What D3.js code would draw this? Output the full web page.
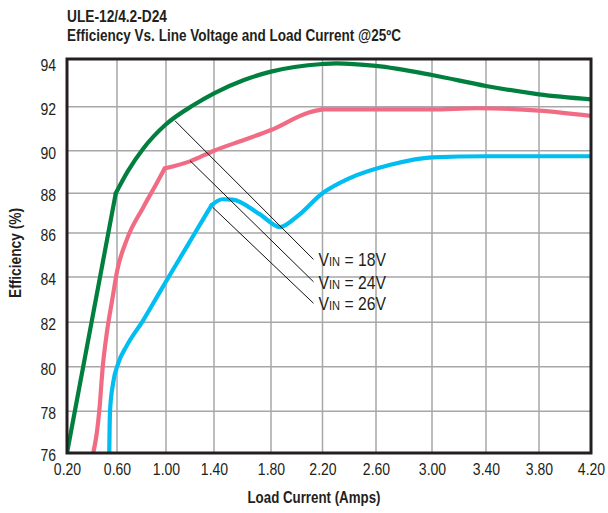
<!DOCTYPE html>
<html>
<head>
<meta charset="utf-8">
<script src="https://cdn.jsdelivr.net/npm/d3@7"></script>
<style>
  html, body { margin: 0; padding: 0; background: #fff; }
  svg { display: block; }
  .lbl { font-family: "Liberation Sans", Arial, Helvetica, sans-serif; fill: #231f20; }
</style>
</head>
<body>
<div id="chart"></div>
<script>
// ─── DATA ───
const TITLE_1 = 'ULE-12/4.2-D24';
const TITLE_2 = 'Efficiency Vs. Line Voltage and Load Current @25ºC';
const X_TITLE = 'Load Current (Amps)';
const Y_TITLE = 'Efficiency (%)';

const X_TICKS = [0.2, 0.6, 1.0, 1.4, 1.8, 2.2, 2.6, 3.0, 3.4, 3.8, 4.2];
const Y_TICKS = [94, 92, 90, 88, 86, 84, 82, 80, 78, 76];

// Vin = 18V
const vin18 = [[0.20, 76.0], [0.59, 88.0], [0.69, 89.05], [0.815, 90.1], [1.00, 91.2], [1.23, 92.07],
  [1.40, 92.56], [1.61, 93.12], [1.80, 93.47], [2.20, 93.79], [2.30, 93.82], [2.60, 93.71],
  [3.00, 93.33], [3.40, 92.87], [3.80, 92.52], [4.20, 92.31]];
// Vin = 24V
const vin24 = [[0.41, 76.0], [0.438, 76.94], [0.458, 78.0], [0.486, 80.0], [0.518, 81.5], [0.562, 83.0],
  [0.602, 84.3], [0.68, 85.7], [0.815, 87.3], [0.924, 88.47], [0.99, 89.17], [1.2, 89.5], [1.4, 90.0],
  [1.61, 90.49], [1.8, 90.94], [2.1, 91.75], [2.2, 91.88], [2.6, 91.88], [3.0, 91.88], [3.33, 91.93],
  [3.8, 91.82], [4.2, 91.58]];
// Vin = 26V
const vin26 = [[0.538, 76.0], [0.544, 78.0], [0.57, 79.3], [0.61, 80.15], [0.68, 80.95], [0.815, 82.1],
  [0.924, 83.1], [1.0, 83.8], [1.17, 85.35], [1.34, 87.0], [1.38, 87.4], [1.46, 87.7], [1.53, 87.68],
  [1.72, 86.95], [1.87, 86.3], [2.0, 86.82], [2.2, 88.0], [2.4, 88.7], [2.71, 89.35], [3.0, 89.69],
  [3.4, 89.74], [4.2, 89.74]];

const SERIES = ['18V', '24V', '26V'];
const SERIES_DATA = [vin18, vin24, vin26];
// load currents where a curve has a sharp corner
const KINKS = [[0.59], [0.99, 2.2], [1.38]];
// leader lines: from curve point to label point (data units)
const LEADER_FROM = [[1.075, 91.36], [1.2, 89.53], [1.39, 87.29]];
const LEADER_TO = [[2.13, 84.8], [2.13, 83.79], [2.13, 82.84]];

// ─── LAYOUT ───
const W = 608, H = 513;
const COLORS = ['#007f3f', '#f26b84', '#00bdf2'];
const K = 0.85; // horizontal squeeze to mimic the condensed face
// the printed grid is not evenly spaced, so the scales follow the gridline positions
const X_STOPS = [67, 117, 166, 214, 271, 322.5, 376, 432, 486, 539, 591];
const Y_STOPS = [59, 106.7, 150.7, 193.3, 233, 277, 322.3, 366.7, 411.3, 453];

const x = d3.scaleLinear().domain(X_TICKS).range(X_STOPS);
const y = d3.scaleLinear().domain(Y_TICKS).range(Y_STOPS);
const pL = X_STOPS[0], pR = X_STOPS[X_STOPS.length - 1];
const pT = Y_STOPS[0], pB = Y_STOPS[Y_STOPS.length - 1];

const svg = d3.select('#chart').append('svg').attr('width', W).attr('height', H);

const boldText = (tx, ty, str, size, width, rot) => svg.append('text').attr('class', 'lbl')
  .attr('transform', `translate(${tx},${ty})` + (rot ? ` rotate(${rot})` : ''))
  .attr('text-anchor', rot ? 'middle' : null)
  .attr('font-size', size).attr('font-weight', 'bold')
  .attr('textLength', width).attr('lengthAdjust', 'spacingAndGlyphs').text(str);

// titles
boldText(67, 22, TITLE_1, 16, 100);
boldText(67, 41, TITLE_2, 16, 334);

// grid
const grid = svg.append('g');
grid.selectAll('.gx').data(X_TICKS.slice(1, -1)).enter().append('line')
  .attr('x1', d => x(d)).attr('x2', d => x(d)).attr('y1', pT).attr('y2', pB)
  .attr('stroke', '#a7a7a7').attr('stroke-width', 1.5);
grid.selectAll('.gy').data(Y_TICKS.slice(1, -1)).enter().append('line')
  .attr('y1', d => y(d)).attr('y2', d => y(d)).attr('x1', pL).attr('x2', pR)
  .attr('stroke', '#a7a7a7').attr('stroke-width', 1.5);

// axes labels
const xAxis = svg.append('g').attr('transform', `translate(0,${pB})`)
  .call(d3.axisBottom(x).tickValues(X_TICKS).tickFormat(d3.format('.2f')).tickSize(0).tickPadding(10));
const yAxis = svg.append('g').attr('transform', `translate(${pL},0)`)
  .call(d3.axisLeft(y).tickValues(Y_TICKS).tickSize(0).tickPadding(11));
[xAxis, yAxis].forEach(a => {
  a.select('.domain').remove();
  a.selectAll('text').attr('class', 'lbl').attr('font-size', 16.5).attr('transform', `scale(${K},1)`);
});
yAxis.selectAll('text').attr('x', -11 / K).attr('dy', d => d === 94 ? '0.72em' : '0.45em');

boldText(314, 503, X_TITLE, 16, 133).attr('text-anchor', 'middle');
boldText(21, 253, Y_TITLE, 16, 90, -90);

// curves: smooth pieces joined at the corners
const splitAt = (pts, kinks) => {
  const pieces = [];
  let cur = [];
  pts.forEach(p => {
    cur.push(p);
    if (kinks.includes(p[0])) { pieces.push(cur); cur = [p]; }
  });
  if (cur.length > 1) pieces.push(cur);
  return pieces;
};
svg.append('clipPath').attr('id', 'clip').append('rect')
  .attr('x', pL).attr('y', pT).attr('width', pR - pL).attr('height', pB - pT);
const line = d3.line().x(d => x(d[0])).y(d => y(d[1])).curve(d3.curveMonotoneX);
const curves = svg.append('g').attr('clip-path', 'url(#clip)');
SERIES_DATA.forEach((pts, i) => {
  curves.append('g').selectAll('path').data(splitAt(pts, KINKS[i])).enter().append('path')
    .attr('d', line).attr('fill', 'none').attr('stroke', COLORS[i])
    .attr('stroke-width', 4.2).attr('stroke-linejoin', 'round').attr('stroke-linecap', 'round');
});

// leaders and labels
SERIES.forEach((s, i) => {
  svg.append('line')
    .attr('x1', x(LEADER_FROM[i][0])).attr('y1', y(LEADER_FROM[i][1]))
    .attr('x2', x(LEADER_TO[i][0])).attr('y2', y(LEADER_TO[i][1]))
    .attr('stroke', '#111').attr('stroke-width', 1);
  const t = svg.append('text').attr('class', 'lbl')
    .attr('transform', `translate(${x(LEADER_TO[i][0]) + 5},${y(LEADER_TO[i][1]) + 7}) scale(${K},1)`)
    .attr('font-size', 18.5);
  t.append('tspan').text('V');
  t.append('tspan').attr('font-size', 13).text('IN');
  t.append('tspan').text(` = ${s}`);
});

// frame
svg.append('rect').attr('x', pL).attr('y', pT).attr('width', pR - pL).attr('height', pB - pT)
  .attr('fill', 'none').attr('stroke', '#231f20').attr('stroke-width', 3);
</script>
</body>
</html>
